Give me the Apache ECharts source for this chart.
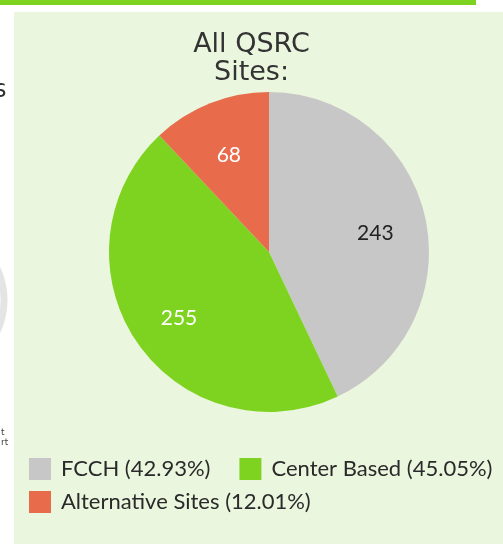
<!DOCTYPE html>
<html lang="en">
<head>
    <meta charset="UTF-8">
    <title>All QSRC Sites</title>
    <script src="https://cdn.jsdelivr.net/npm/echarts@6/dist/echarts.min.js"></script>
    <style>
        html, body { margin: 0; padding: 0; background: #fff; }
        #main { width: 503px; height: 544px; }
    </style>
</head>
<body>
<div id="main"></div>
<script type="text/javascript">
    // data
    var categories = ['FCCH', 'Center Based', 'Alternative Sites'];
    var siteCounts = [243, 255, 68];
    var sliceColors = ['#c7c7c7', '#7ed321', '#e86b4c'];
    var labelColors = ['#222222', '#ffffff', '#ffffff'];

    var total = siteCounts.reduce(function (a, b) { return a + b; }, 0);
    function pct(name) {
        var i = categories.indexOf(name);
        return (siteCounts[i] / total * 100).toFixed(2) + '%';
    }

    var pieData = categories.map(function (c, i) {
        return { name: c, value: siteCounts[i], itemStyle: { color: sliceColors[i] } };
    });
    var labelData = categories.map(function (c, i) {
        return {
            name: c, value: siteCounts[i],
            itemStyle: { color: 'rgba(0,0,0,0)' },
            label: { color: labelColors[i] }
        };
    });

    var legendCommon = {
        orient: 'horizontal',
        left: 24,
        itemWidth: 22,
        itemHeight: 22,
        itemGap: 29,
        icon: 'rect',
        textStyle: { fontFamily: 'Lato', fontSize: 22, color: '#2a2a2a', padding: [0, 0, 0, 5] },
        formatter: function (name) { return name + ' (' + pct(name) + ')'; },
        selectedMode: false
    };

    var myChart = echarts.init(document.getElementById('main'));
    var option = {
        backgroundColor: '#ffffff',
        animation: false,
        graphic: [
            // top green bar
            { type: 'rect', shape: { x: 0, y: 0, width: 476, height: 5 }, style: { fill: '#7ed321' }, z: -10 },
            // light green panel
            { type: 'rect', shape: { x: 14, y: 12, width: 489, height: 532 }, style: { fill: '#eaf6dd' }, z: -10 },
            // cut-off neighbour content on the left
            { type: 'text', left: -6, top: 79, style: { text: 's', font: '24px DejaVu Sans', fill: '#333' }, z: -5 },
            { type: 'circle', shape: { cx: -70, cy: 300, r: 74 }, style: { fill: '#ffffff', stroke: '#e4e4e4', lineWidth: 7 }, z: -5 },
            { type: 'text', left: 1, top: 428, style: { text: 't\nrt', font: '9px DejaVu Sans', fill: '#444', lineHeight: 10 }, z: -5 }
        ],
        title: {
            text: 'All QSRC\nSites:',
            left: 'center',
            top: 26,
            textStyle: { fontFamily: 'DejaVu Sans', fontSize: 27, fontWeight: 'normal', color: '#333', lineHeight: 28 }
        },
        legend: [
            Object.assign({}, legendCommon, { top: 453, data: [categories[0], categories[1]] }),
            Object.assign({}, legendCommon, { top: 486, data: [categories[2]] })
        ],
        series: [
            {
                name: 'sites',
                type: 'pie',
                center: [269, 252],
                radius: [0, 160],
                startAngle: 90,
                clockwise: true,
                silent: true,
                label: { show: false },
                labelLine: { show: false },
                itemStyle: { borderWidth: 0 },
                data: pieData
            },
            {
                // transparent copy used only to place the value labels
                name: 'labels',
                type: 'pie',
                center: [269, 252],
                radius: [0, 212],
                startAngle: 90,
                clockwise: true,
                silent: true,
                z: 3,
                label: {
                    show: true,
                    position: 'inside',
                    formatter: '{c}',
                    fontFamily: 'Lato',
                    fontSize: 21,
                    offset: [0, 5]
                },
                labelLine: { show: false },
                data: labelData
            }
        ]
    };
    myChart.setOption(option);
</script>
</body>
</html>
